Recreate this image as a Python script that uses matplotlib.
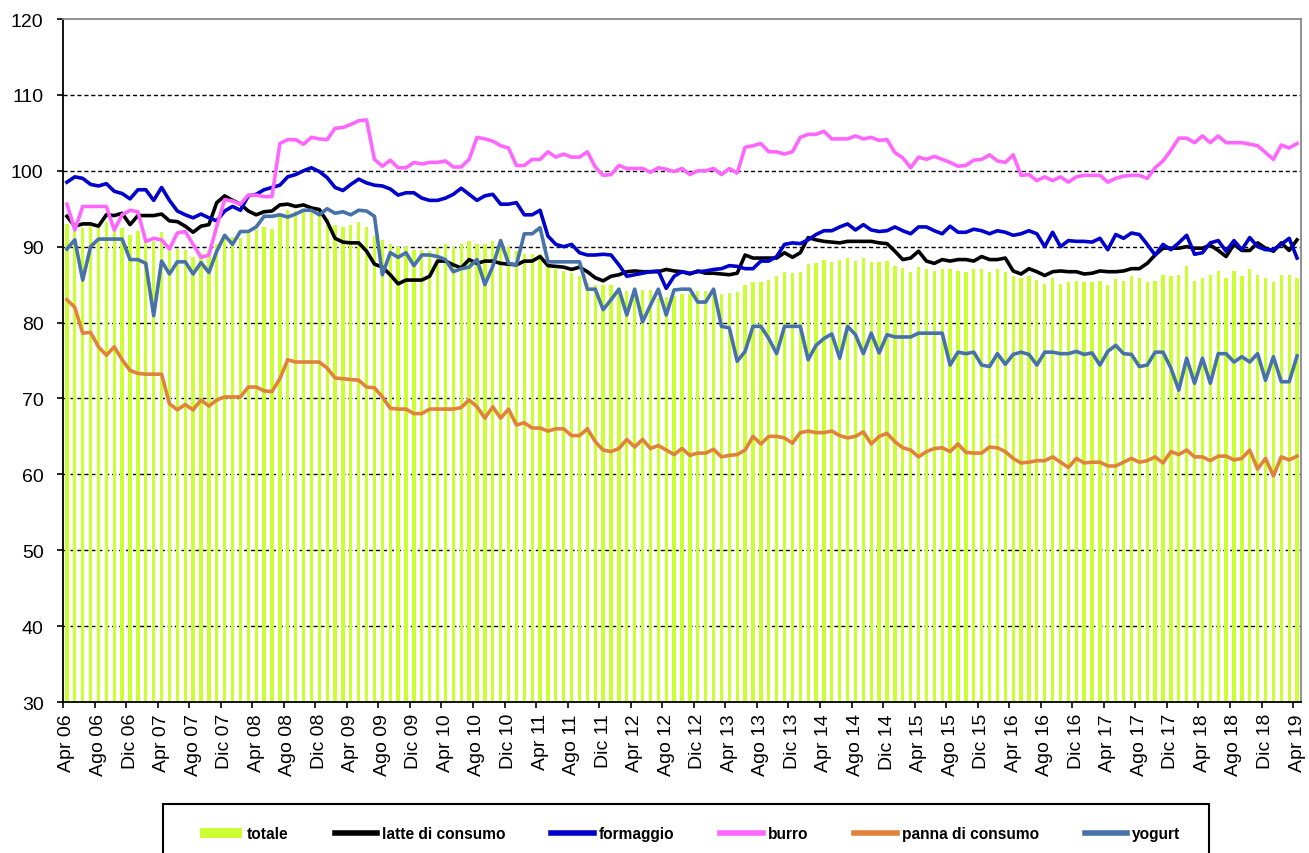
import matplotlib
matplotlib.use('Agg')
import matplotlib.pyplot as plt
import numpy as np
from matplotlib.patches import Rectangle, Patch
from matplotlib.lines import Line2D

plt.rcParams['font.family'] = ['Liberation Sans', 'DejaVu Sans']

# ---- data (monthly, Apr 2006 .. Apr 2019) ----
month_names = ["Apr", "Mag", "Giu", "Lug", "Ago", "Set", "Ott", "Nov", "Dic", "Gen", "Feb", "Mar"]

tick_labels = ["Apr 06", "Ago 06", "Dic 06", "Apr 07", "Ago 07", "Dic 07", "Apr 08", "Ago 08",
               "Dic 08", "Apr 09", "Ago 09", "Dic 09", "Apr 10", "Ago 10", "Dic 10", "Apr 11",
               "Ago 11", "Dic 11", "Apr 12", "Ago 12", "Dic 12", "Apr 13", "Ago 13", "Dic 13",
               "Apr 14", "Ago 14", "Dic 14", "Apr 15", "Ago 15", "Dic 15", "Apr 16", "Ago 16",
               "Dic 16", "Apr 17", "Ago 17", "Dic 17", "Apr 18", "Ago 18", "Dic 18", "Apr 19"]

totale = [93.0, 92.7, 92.5, 92.7, 92.5, 93.2, 93.0, 92.4, 91.6, 92.1, 90.7, 90.7,
          91.9, 89.9, 89.7, 89.5, 88.7, 89.2, 89.5, 90.3, 91.6, 91.3, 91.2, 92.0,
          92.2, 92.6, 92.3, 94.0, 94.8, 94.7, 94.9, 95.2, 94.9, 93.8, 92.8, 92.6,
          92.8, 93.3, 92.6, 91.4, 90.9, 90.4, 90.0, 90.0, 89.6, 89.5, 89.4, 90.0,
          90.4, 90.0, 90.4, 90.7, 90.3, 90.3, 90.7, 90.2, 90.0, 89.4, 89.0, 89.0,
          89.0, 87.6, 87.0, 86.8, 86.5, 86.1, 85.2, 85.0, 85.0, 85.0, 84.3, 84.1,
          84.2, 84.3, 84.3, 83.2, 83.4, 83.5, 83.7, 83.7, 84.1, 84.2, 84.1, 83.7,
          83.9, 84.0, 85.0, 85.4, 85.4, 85.6, 86.1, 86.7, 86.5, 86.7, 87.7, 87.8,
          88.3, 88.0, 88.3, 88.5, 88.1, 88.5, 88.0, 88.0, 88.1, 87.5, 87.2, 86.7,
          87.3, 87.1, 86.8, 87.0, 87.0, 86.8, 86.7, 87.0, 87.0, 86.7, 87.0, 86.7,
          86.1, 85.9, 86.1, 85.6, 85.1, 85.9, 85.1, 85.3, 85.5, 85.3, 85.3, 85.5,
          84.9, 85.8, 85.5, 86.1, 85.9, 85.3, 85.5, 86.3, 86.1, 86.3, 87.4, 85.5,
          85.9, 86.3, 86.8, 85.9, 86.8, 86.1, 87.0, 86.3, 85.9, 85.3, 86.3, 86.3,
          85.9]

latte = [94.0, 92.7, 93.0, 93.0, 92.7, 94.2, 94.1, 94.4, 92.9, 94.1, 94.1, 94.1,
         94.3, 93.4, 93.3, 92.7, 91.9, 92.7, 92.9, 95.8, 96.7, 96.1, 95.6, 94.7,
         94.2, 94.6, 94.7, 95.5, 95.6, 95.3, 95.5, 95.1, 94.9, 93.3, 91.1, 90.6,
         90.5, 90.5, 89.4, 87.7, 87.3, 86.3, 85.1, 85.6, 85.6, 85.6, 86.1, 88.1,
         88.1, 87.6, 87.2, 88.3, 87.8, 88.1, 88.1, 87.8, 87.7, 87.6, 88.1, 88.1,
         88.7, 87.5, 87.4, 87.3, 87.0, 87.3, 86.7, 85.9, 85.5, 86.1, 86.3, 86.7,
         86.8, 86.7, 86.7, 86.7, 87.0, 86.8, 86.7, 86.4, 86.8, 86.5, 86.5, 86.4,
         86.3, 86.5, 88.9, 88.5, 88.5, 88.5, 88.5, 89.2, 88.6, 89.2, 91.2, 90.9,
         90.7, 90.6, 90.5, 90.7, 90.7, 90.7, 90.7, 90.5, 90.4, 89.4, 88.3, 88.5,
         89.4, 88.1, 87.8, 88.3, 88.1, 88.3, 88.3, 88.1, 88.7, 88.3, 88.3, 88.5,
         86.8, 86.4, 87.1, 86.7, 86.2, 86.7, 86.8, 86.7, 86.7, 86.4, 86.5, 86.8,
         86.7, 86.7, 86.8, 87.1, 87.1, 87.8, 88.9, 89.8, 89.8, 89.8, 90.0, 89.8,
         89.8, 90.2, 89.5, 88.7, 90.3, 89.5, 89.5, 90.5, 89.8, 89.4, 90.5, 89.5,
         90.9]

formaggio = [98.5, 99.2, 99.0, 98.2, 98.0, 98.3, 97.3, 97.0, 96.3, 97.5, 97.5, 96.1,
             97.8, 96.1, 94.7, 94.2, 93.8, 94.3, 93.8, 93.4, 94.7, 95.3, 94.8, 96.7,
             96.9, 97.5, 97.8, 98.1, 99.2, 99.5, 100.0, 100.4, 99.9, 99.1, 97.8, 97.4,
             98.2, 98.9, 98.4, 98.1, 98.0, 97.6, 96.8, 97.1, 97.1, 96.4, 96.1, 96.1,
             96.4, 96.9, 97.7, 96.9, 96.1, 96.7, 96.9, 95.6, 95.6, 95.8, 94.2, 94.2,
             94.8, 91.4, 90.3, 90.0, 90.3, 89.2, 88.9, 88.9, 89.0, 88.9, 87.6, 86.1,
             86.3, 86.5, 86.7, 86.8, 84.5, 86.1, 86.7, 86.5, 86.7, 86.8, 87.0, 87.1,
             87.5, 87.4, 87.1, 87.1, 88.1, 88.1, 88.7, 90.3, 90.5, 90.4, 90.9, 91.6,
             92.1, 92.1, 92.6, 93.0, 92.2, 92.9, 92.2, 92.0, 92.1, 92.6, 92.1, 91.7,
             92.6, 92.6, 92.1, 91.7, 92.7, 91.9, 91.9, 92.3, 92.1, 91.7, 92.1, 91.9,
             91.5, 91.7, 92.1, 91.7, 90.0, 91.9, 90.0, 90.8, 90.7, 90.7, 90.6, 91.1,
             89.6, 91.6, 91.1, 91.8, 91.6, 90.3, 88.9, 90.3, 89.6, 90.5, 91.5, 89.0,
             89.2, 90.5, 90.8, 89.4, 90.8, 89.6, 91.2, 90.0, 89.6, 89.6, 90.3, 91.1,
             88.5]

burro = [95.6, 92.2, 95.3, 95.3, 95.3, 95.3, 92.2, 94.2, 94.8, 94.6, 90.7, 91.1,
         90.9, 89.7, 91.8, 92.0, 90.3, 88.6, 88.9, 92.7, 96.2, 96.0, 95.6, 96.8,
         96.8, 96.6, 96.6, 103.6, 104.1, 104.1, 103.5, 104.4, 104.2, 104.1, 105.6, 105.7,
         106.1, 106.6, 106.7, 101.5, 100.6, 101.4, 100.4, 100.4, 101.1, 100.9, 101.1, 101.1,
         101.3, 100.5, 100.5, 101.5, 104.4, 104.2, 103.9, 103.3, 103.0, 100.7, 100.7, 101.5,
         101.5, 102.5, 101.8, 102.2, 101.8, 101.8, 102.5, 100.5, 99.4, 99.5, 100.7, 100.3,
         100.3, 100.3, 99.8, 100.4, 100.2, 99.9, 100.3, 99.5, 100.0, 100.0, 100.3, 99.5,
         100.3, 99.7, 103.1, 103.3, 103.6, 102.5, 102.5, 102.2, 102.5, 104.4, 104.8, 104.8,
         105.2, 104.2, 104.2, 104.2, 104.6, 104.2, 104.4, 104.0, 104.1, 102.4, 101.7, 100.4,
         101.8, 101.5, 101.9, 101.5, 101.1, 100.6, 100.7, 101.4, 101.5, 102.1, 101.3, 101.1,
         102.1, 99.4, 99.5, 98.7, 99.2, 98.7, 99.2, 98.5, 99.2, 99.4, 99.4, 99.4,
         98.5, 99.0, 99.3, 99.4, 99.4, 99.0, 100.4, 101.3, 102.7, 104.3, 104.3, 103.7,
         104.6, 103.7, 104.6, 103.7, 103.7, 103.7, 103.5, 103.3, 102.4, 101.5, 103.4, 103.0,
         103.6]

panna = [83.0, 82.0, 78.6, 78.7, 76.8, 75.7, 76.8, 75.1, 73.7, 73.3, 73.2, 73.2,
         73.2, 69.3, 68.5, 69.2, 68.5, 69.8, 69.0, 69.8, 70.2, 70.2, 70.2, 71.5,
         71.5, 71.0, 70.9, 72.6, 75.1, 74.8, 74.8, 74.8, 74.8, 74.0, 72.7, 72.6,
         72.5, 72.4, 71.5, 71.4, 70.2, 68.7, 68.6, 68.6, 68.0, 68.0, 68.6, 68.6,
         68.6, 68.6, 68.8, 69.8, 68.9, 67.4, 68.9, 67.4, 68.6, 66.5, 66.8, 66.1,
         66.1, 65.7, 66.0, 66.0, 65.1, 65.1, 66.0, 64.3, 63.2, 63.0, 63.4, 64.6,
         63.6, 64.6, 63.4, 63.8, 63.2, 62.6, 63.4, 62.5, 62.8, 62.8, 63.3, 62.3,
         62.5, 62.6, 63.2, 65.0, 64.0, 65.0, 65.0, 64.8, 64.1, 65.5, 65.7, 65.5,
         65.5, 65.7, 65.1, 64.8, 65.0, 65.6, 64.0, 65.0, 65.4, 64.3, 63.5, 63.2,
         62.3, 63.0, 63.4, 63.5, 63.0, 64.0, 62.9, 62.8, 62.8, 63.6, 63.5, 63.0,
         62.1, 61.5, 61.6, 61.8, 61.8, 62.3, 61.6, 60.9, 62.1, 61.5, 61.6, 61.6,
         61.1, 61.1, 61.6, 62.1, 61.6, 61.8, 62.3, 61.5, 63.0, 62.6, 63.2, 62.3,
         62.3, 61.8, 62.4, 62.4, 61.9, 62.1, 63.2, 60.7, 62.1, 59.8, 62.3, 61.9,
         62.4]

yogurt = [89.7, 90.9, 85.6, 90.0, 91.0, 91.0, 91.0, 91.0, 88.3, 88.3, 87.8, 80.9,
          88.1, 86.4, 88.0, 88.0, 86.4, 87.9, 86.6, 89.4, 91.5, 90.3, 92.0, 92.0,
          92.6, 94.0, 94.0, 94.2, 93.9, 94.3, 94.8, 94.8, 94.2, 95.0, 94.4, 94.6,
          94.2, 94.8, 94.7, 94.0, 86.3, 89.2, 88.6, 89.2, 87.5, 88.9, 88.9, 88.7,
          88.3, 86.7, 87.1, 87.3, 88.3, 85.0, 87.4, 90.8, 87.8, 87.6, 91.7, 91.7,
          92.5, 88.0, 88.0, 88.0, 88.0, 88.0, 84.4, 84.4, 81.7, 83.0, 84.4, 81.0,
          84.4, 80.1, 82.3, 84.4, 81.0, 84.3, 84.4, 84.4, 82.7, 82.7, 84.4, 79.5,
          79.3, 74.9, 76.2, 79.5, 79.5, 77.9, 75.9, 79.5, 79.5, 79.5, 75.1, 77.0,
          77.9, 78.5, 75.3, 79.5, 78.4, 75.9, 78.6, 76.0, 78.4, 78.1, 78.1, 78.1,
          78.6, 78.6, 78.6, 78.6, 74.4, 76.1, 75.9, 76.1, 74.4, 74.2, 75.9, 74.5,
          75.8, 76.1, 75.8, 74.4, 76.1, 76.1, 75.9, 75.9, 76.2, 75.8, 76.0, 74.4,
          76.2, 77.0, 75.9, 75.8, 74.2, 74.4, 76.1, 76.1, 74.0, 71.1, 75.3, 72.0,
          75.3, 72.0, 75.9, 75.9, 74.8, 75.5, 74.8, 75.9, 72.4, 75.5, 72.2, 72.2,
          75.6]

series_names = ["totale", "latte di consumo", "formaggio", "burro", "panna di consumo", "yogurt"]

# ---- figure ----
W, H = 1309, 854
fig = plt.figure(figsize=(W / 100, H / 100), dpi=100)
ax = fig.add_axes([63 / W, 1 - 703 / H, (1301 - 63) / W, (703 - 20) / H])

x = np.arange(len(totale))
col_tot = '#CCFF33'
line_specs = [(latte, 'black'), (formaggio, '#0000CC'), (burro, '#FF66FF'),
              (panna, '#E0823A'), (yogurt, '#4672A9')]

ax.bar(x, totale, width=0.42, color=col_tot, zorder=2)
for vals, c in line_specs:
    ax.plot(x, vals, color=c, lw=2.6, zorder=3, solid_joinstyle='round')

ax.set_xlim(-0.5, len(totale) - 0.5)
ax.set_ylim(30, 120)
ax.set_yticks(np.arange(30, 121, 10))

for yv in range(40, 120, 10):
    ax.axhline(yv, color='black', lw=1.0, ls=(0, (3, 2)), zorder=1)

ax.set_xticks(x[::4])
ax.set_xticklabels(tick_labels, rotation=90, fontsize=14)
ax.set_xticks(np.arange(-0.5, len(totale), 4), minor=True)
ax.tick_params(axis='x', which='major', length=0, pad=8)
ax.tick_params(axis='x', which='minor', length=4, width=1.2, direction='out')
ax.tick_params(axis='y', length=4, width=1.2, direction='out', labelsize=14, pad=10)

for s in ['left', 'bottom']:
    ax.spines[s].set_color('black')
    ax.spines[s].set_linewidth(1.3)
for s in ['top', 'right']:
    ax.spines[s].set_color('#888888')
    ax.spines[s].set_linewidth(1.3)

# ---- legend ----
handles = [Patch(facecolor=col_tot, edgecolor='none')] + \
          [Line2D([0], [0], color=c, lw=4) for _, c in line_specs]
fig.legend(handles, series_names, loc='center', bbox_to_anchor=(690 / W, 1 - 835 / H),
           ncol=6, frameon=False, prop={'weight': 'bold', 'size': 11.2},
           handlelength=2.75, handleheight=0.6, handletextpad=0.3, columnspacing=2.95)
fig.add_artist(Rectangle((163 / W, -0.05), (1209 - 163) / W, (854 - 805) / H + 0.05,
                         transform=fig.transFigure, fill=False, edgecolor='black', lw=1.5))

fig.savefig('out.png', dpi=100)
